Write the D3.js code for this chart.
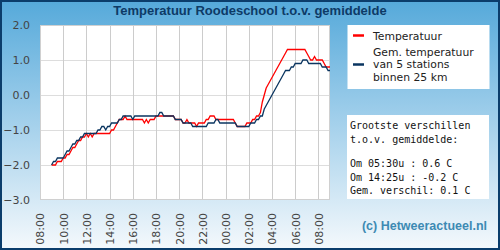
<!DOCTYPE html>
<html><head><meta charset="utf-8">
<script src="https://cdn.jsdelivr.net/npm/d3@7/dist/d3.min.js"></script>
<style>html,body{margin:0;padding:0;background:#fff;} svg{display:block;}</style>
</head><body>
<svg id="c" width="500" height="250"></svg>
<script>
// ---------- data ----------
const chartTitle = "Temperatuur Roodeschool t.o.v. gemiddelde";
const yTickValues = [2.0, 1.0, 0.0, -1.0, -2.0, -3.0];
const xTickLabels = ["08:00","10:00","12:00","14:00","16:00","18:00","20:00","22:00","00:00","02:00","04:00","06:00","08:00"];
const firstSample = "09:00";      // first measurement, 10-minute interval
const sampleMinutes = 10;
// Temperatuur Roodeschool (10-min values, 09:00 -> 09:00 next day)
const temperatuur = [
  -2.0,-2.0,-2.0,-1.9,-1.9,-1.9,   // 09
  -1.8,-1.8,-1.7,-1.7,-1.6,-1.5,   // 10
  -1.5,-1.4,-1.3,-1.3,-1.2,-1.2,   // 11
  -1.1,-1.2,-1.1,-1.2,-1.1,-1.1,   // 12
  -1.1,-1.1,-1.1,-1.1,-1.1,-1.1,   // 13
  -1.1,-1.0,-1.0,-0.9,-0.8,-0.7,   // 14
  -0.7,-0.7,-0.6,-0.7,-0.7,-0.7,   // 15
  -0.7,-0.7,-0.7,-0.7,-0.7,-0.7,   // 16
  -0.8,-0.7,-0.8,-0.7,-0.7,-0.7,   // 17
  -0.6,-0.6,-0.6,-0.6,-0.6,-0.6,   // 18
  -0.6,-0.6,-0.6,-0.6,-0.7,-0.7,   // 19
  -0.7,-0.7,-0.8,-0.8,-0.7,-0.8,   // 20
  -0.8,-0.8,-0.8,-0.9,-0.8,-0.8,   // 21
  -0.8,-0.8,-0.7,-0.7,-0.6,-0.6,   // 22
  -0.6,-0.7,-0.7,-0.7,-0.7,-0.7,   // 23
  -0.7,-0.7,-0.7,-0.7,-0.7,-0.8,   // 00
  -0.9,-0.9,-0.9,-0.9,-0.9,-0.8,   // 01
  -0.8,-0.8,-0.7,-0.7,-0.6,-0.6,   // 02
  -0.5,-0.2, 0.0, 0.2, 0.3, 0.4,   // 03
   0.5, 0.6, 0.7, 0.8, 0.9, 1.0,   // 04
   1.1, 1.2, 1.3, 1.3, 1.3, 1.3,   // 05
   1.3, 1.3, 1.3, 1.3, 1.3, 1.3,   // 06
   1.2, 1.1, 1.0, 1.0, 1.1, 1.0,   // 07
   1.0, 1.0, 1.0, 0.9, 0.8, 0.8,   // 08
   0.8                             // 09
];
// Gem. temperatuur van 5 stations binnen 25 km
const gemiddelde = [
  -2.0,-1.9,-1.9,-1.8,-1.8,-1.8,   // 09
  -1.8,-1.7,-1.6,-1.6,-1.5,-1.4,   // 10
  -1.4,-1.3,-1.3,-1.2,-1.2,-1.1,   // 11
  -1.1,-1.1,-1.1,-1.1,-1.1,-1.1,   // 12
  -1.0,-1.0,-0.9,-0.9,-1.0,-0.9,   // 13
  -0.9,-0.8,-0.8,-0.8,-0.8,-0.7,   // 14
  -0.7,-0.6,-0.6,-0.6,-0.6,-0.6,   // 15
  -0.7,-0.6,-0.6,-0.6,-0.6,-0.6,   // 16
  -0.6,-0.6,-0.6,-0.6,-0.6,-0.6,   // 17
  -0.6,-0.6,-0.5,-0.5,-0.6,-0.6,   // 18
  -0.6,-0.6,-0.6,-0.6,-0.7,-0.7,   // 19
  -0.7,-0.7,-0.8,-0.8,-0.8,-0.8,   // 20
  -0.8,-0.9,-0.9,-0.9,-0.9,-0.9,   // 21
  -0.9,-0.9,-0.9,-0.8,-0.8,-0.8,   // 22
  -0.8,-0.7,-0.7,-0.8,-0.8,-0.8,   // 23
  -0.8,-0.8,-0.8,-0.8,-0.8,-0.8,   // 00
  -0.9,-0.9,-0.9,-0.9,-0.9,-0.9,   // 01
  -0.9,-0.8,-0.8,-0.8,-0.7,-0.7,   // 02
  -0.6,-0.6,-0.4,-0.3,-0.2,-0.1,   // 03
   0.0, 0.1, 0.2, 0.3, 0.4, 0.5,   // 04
   0.6, 0.7, 0.7, 0.7, 0.8, 0.8,   // 05
   0.9, 0.9, 0.9, 0.9, 1.0, 1.0,   // 06
   1.0, 0.9, 0.9, 0.9, 0.9, 0.9,   // 07
   0.9, 0.9, 0.8, 0.8, 0.8, 0.7,   // 08
   0.7                             // 09
];
const seriesNames = [["Temperatuur"], ["Gem. temperatuur", "van 5 stations", "binnen 25 km"]];
const seriesColors = ["#ff0000", "#0a3560"];
const infoLines = ["Grootste verschillen", "t.o.v. gemiddelde:", "", "Om 05:30u : 0.6 C", "Om 14:25u : -0.2 C", "Gem. verschil: 0.1 C"];
const credit = "(c) Hetweeractueel.nl";

// ---------- drawing ----------
const svg = d3.select("#c");
const W = 500, H = 250;
const defs = svg.append("defs");
const grad = defs.append("linearGradient").attr("id","bg").attr("x1",0).attr("y1",0).attr("x2",0).attr("y2",1);
grad.append("stop").attr("offset","0%").attr("stop-color","#55a9da");
grad.append("stop").attr("offset","45%").attr("stop-color","#9dcdea");
grad.append("stop").attr("offset","100%").attr("stop-color","#f5f9fc");
svg.append("rect").attr("x",0).attr("y",0).attr("width",W).attr("height",H).attr("fill","url(#bg)");

svg.append("text").attr("x",250).attr("y",15).attr("text-anchor","middle")
  .attr("font-family","Liberation Sans, Arial, sans-serif").attr("font-weight","bold")
  .attr("font-size",13).attr("fill","#0d3a66").text(chartTitle);

const plot = {left:40, right:330, top:25, bottom:200};
const base = new Date(2020,0,1,8,0);
const parseHM = s => { const [h,m] = s.split(":").map(Number); return new Date(2020,0,1,h,m); };
const t0 = parseHM(firstSample);
const tickTimes = xTickLabels.map((l,i) => d3.timeHour.offset(base, 2*i));
const x = d3.scaleTime().domain([base, d3.timeHour.offset(base, 25)]).range([plot.left, plot.right]);
const y = d3.scaleLinear().domain([-3, 2]).range([plot.bottom, plot.top]);

svg.append("rect").attr("x",plot.left).attr("y",plot.top)
  .attr("width",plot.right-plot.left).attr("height",plot.bottom-plot.top)
  .attr("fill","#fff");

// horizontal grid
svg.append("g").selectAll("line").data(yTickValues.filter(v => v>-3 && v<2)).join("line")
  .attr("x1",plot.left).attr("x2",plot.right)
  .attr("y1",d=>Math.round(y(d))+0.5).attr("y2",d=>Math.round(y(d))+0.5)
  .attr("stroke","#dddddd").attr("stroke-width",1);
// vertical grid
svg.append("g").selectAll("line").data(tickTimes.slice(1)).join("line")
  .attr("x1",d=>Math.round(x(d))+0.5).attr("x2",d=>Math.round(x(d))+0.5)
  .attr("y1",plot.top).attr("y2",plot.bottom)
  .attr("stroke","#cccccc").attr("stroke-width",1);
// frame
svg.append("rect").attr("x",plot.left+0.5).attr("y",plot.top+0.5)
  .attr("width",plot.right-plot.left-1).attr("height",plot.bottom-plot.top-1)
  .attr("fill","none").attr("stroke","#d0d0d0");

// y axis labels
const yAxis = d3.axisLeft(y).tickValues(yTickValues).tickFormat(d3.format(".1f")).tickSize(0).tickPadding(10);
const gy = svg.append("g").attr("transform",`translate(${plot.left},0)`).call(yAxis);
gy.select(".domain").remove();
gy.selectAll("text").attr("font-family","DejaVu Sans, sans-serif").attr("font-size",11).attr("fill","#444");

// x axis labels (rotated)
const xAxis = d3.axisBottom(x).tickValues(tickTimes).tickFormat((d,i)=>xTickLabels[i]).tickSize(0);
const gx = svg.append("g").attr("transform",`translate(0,${plot.bottom})`).call(xAxis);
gx.select(".domain").remove();
gx.selectAll("text").attr("font-family","DejaVu Sans, sans-serif").attr("font-size",11).attr("fill","#444")
  .attr("text-anchor","end").attr("transform","translate(0,13) rotate(-90)")
  .attr("x",0).attr("y",0).attr("dy","0.35em");

// lines
const toPoints = arr => arr.map((v,i) => ({t: d3.timeMinute.offset(t0, i*sampleMinutes), v}));
const line = d3.line().x(d=>x(d.t)).y(d=>y(d.v));
[temperatuur, gemiddelde].forEach((arr,k) => {
  svg.append("path").datum(toPoints(arr)).attr("d",line)
    .attr("fill","none").attr("stroke",seriesColors[k]).attr("stroke-width",1.3);
});

// legend box
svg.append("rect").attr("x",347.5).attr("y",25).attr("width",142).attr("height",64).attr("fill","#fff");
const legendMarkY = [35.5, 64.5];
const legendTextY = [39.5, 55.5];
const legendLineGap = 12.6;
seriesNames.forEach((lines,k) => {
  svg.append("line").attr("x1",353).attr("x2",364).attr("y1",legendMarkY[k]).attr("y2",legendMarkY[k])
    .attr("stroke",seriesColors[k]).attr("stroke-width",2.5);
  lines.forEach((s,i) => svg.append("text").attr("x",373).attr("y",legendTextY[k] + i*legendLineGap)
    .attr("font-family","DejaVu Sans, sans-serif").attr("font-size",10.8).attr("fill","#222").text(s));
});

// info box
svg.append("rect").attr("x",347).attr("y",115).attr("width",142).attr("height",84).attr("fill","#fff");
const infoY = [129, 143, 155, 167, 181, 194];
const ig = svg.append("g").attr("font-family","DejaVu Sans Mono, monospace").attr("font-size",10).attr("fill","#111");
infoLines.forEach((s,i)=> { if (s) ig.append("text").attr("x",350).attr("y",infoY[i]).attr("xml:space","preserve").text(s); });

// credit
svg.append("text").attr("x",487).attr("y",230).attr("text-anchor","end")
  .attr("font-family","Liberation Sans, Arial, sans-serif").attr("font-weight","bold")
  .attr("font-size",12.5).attr("fill","#3d8ab3").text(credit);

// outer border
svg.append("rect").attr("x",1).attr("y",1).attr("width",W-2).attr("height",H-2)
  .attr("fill","none").attr("stroke","#0b3d6b").attr("stroke-width",2);
</script>
</body></html>
